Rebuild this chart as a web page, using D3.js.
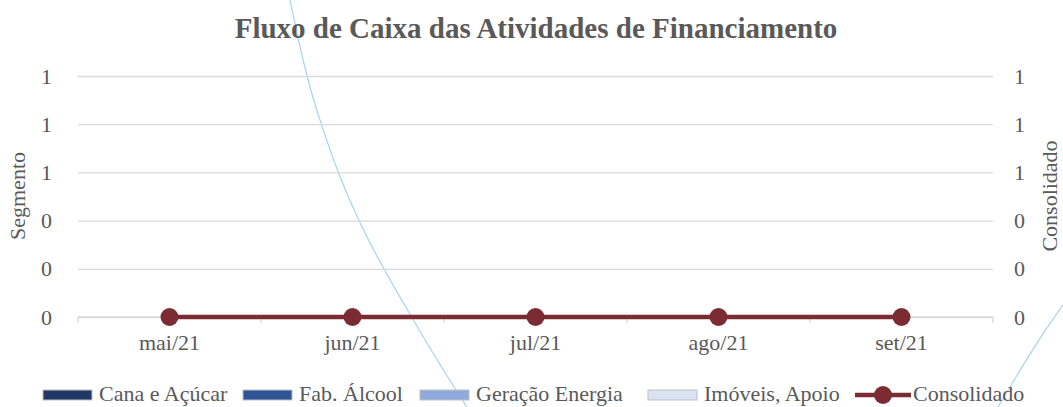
<!DOCTYPE html>
<html>
<head>
<meta charset="utf-8">
<script src="https://cdn.jsdelivr.net/npm/d3@7"></script>
<style>
  body { margin: 0; background: #fff; }
</style>
</head>
<body>
<svg id="chart" width="1063" height="407"></svg>
<script>
/* chart values */
const months = ['mai/21', 'jun/21', 'jul/21', 'ago/21', 'set/21'];
const canaAcucar = [0, 0, 0, 0, 0];
const fabAlcool = [0, 0, 0, 0, 0];
const geracaoEnergia = [0, 0, 0, 0, 0];
const imoveisApoio = [0, 0, 0, 0, 0];
const consolidado = [0, 0, 0, 0, 0];
const yTicks = [0, 0.2, 0.4, 0.6, 0.8, 1];

const seriesNames = ['Cana e Açúcar', 'Fab. Álcool', 'Geração Energia', 'Imóveis, Apoio'];
const seriesColors = ['#203864', '#2f5597', '#8faadc', '#dae3f3'];

const FONT = '"Liberation Serif", "Times New Roman", serif';
const INK = '#595959';

/* layout */
let margin = { top: 76, right: 70, bottom: 90, left: 78 };
let W = 1063, H = 407;
let width = W - margin.left - margin.right;
let height = H - margin.top - margin.bottom;

let svg = d3.select('#chart');

/* decorative background arcs */
let deco = svg.append('g');
let arcLine = d3.line().curve(d3.curveBasis);
deco.append('path')
    .attr('d', arcLine([[289, -5], [306, 76], [321, 124], [338, 173], [358, 220], [383, 268], [412, 318], [440, 365], [470, 412]]))
    .attr('fill', 'none').attr('stroke', '#a8d4ea').attr('stroke-width', 1.2);
deco.append('path')
    .attr('d', arcLine([[995, 412], [1020, 370], [1045, 330], [1068, 298]]))
    .attr('fill', 'none').attr('stroke', '#a8d4ea').attr('stroke-width', 1.2);

let chart = svg.append('g')
    .attr('transform', `translate(${margin.left}, ${margin.top})`);

let x = d3.scaleBand().domain(months).range([0, width]).padding(0);
let xs = d3.scaleBand().domain(d3.range(seriesNames.length)).range([0, x.bandwidth()]).padding(0.2);
let y = d3.scaleLinear().domain([0, 1]).range([height, 0]);
let y2 = d3.scaleLinear().domain([0, 1]).range([height, 0]);
let fmt = d3.format('.0f');

function styleText(sel, size) {
    sel.style('font-family', FONT).attr('font-size', size).attr('fill', INK);
}

/* gridlines + left axis */
let yAxis = chart.append('g')
    .call(d3.axisLeft(y).tickValues(yTicks).tickSize(-width).tickPadding(26).tickFormat(fmt));
yAxis.select('.domain').remove();
yAxis.selectAll('line').attr('stroke', '#d9d9d9').attr('stroke-width', 1.3);
styleText(yAxis.selectAll('text'), 22);

/* right axis */
let yAxisR = chart.append('g')
    .attr('transform', `translate(${width}, 0)`)
    .call(d3.axisRight(y2).tickValues(yTicks).tickSize(0).tickPadding(21).tickFormat(fmt));
yAxisR.select('.domain').remove();
styleText(yAxisR.selectAll('text'), 22);

/* x axis: line + boundary ticks */
let xAxisG = chart.append('g').attr('transform', `translate(0, ${height})`);
xAxisG.append('line').attr('x1', 0).attr('x2', width).attr('stroke', '#d9d9d9').attr('stroke-width', 1.3);
xAxisG.selectAll('.bt').data(months.concat(['end']))
    .join('line')
    .attr('x1', (d, i) => i < months.length ? x(d) : width)
    .attr('x2', (d, i) => i < months.length ? x(d) : width)
    .attr('y1', 0).attr('y2', 6)
    .attr('stroke', '#d9d9d9').attr('stroke-width', 1.3);
let xAxis = xAxisG.append('g')
    .call(d3.axisBottom(x).tickSize(0).tickPadding(17));
xAxis.select('.domain').remove();
styleText(xAxis.selectAll('text'), 22);

/* segment bars (all zero) */
let segData = [canaAcucar, fabAlcool, geracaoEnergia, imoveisApoio];
segData.forEach((vals, si) => {
    chart.selectAll(`.bar${si}`).data(vals)
        .join('rect')
        .attr('x', (d, i) => x(months[i]) + xs(si))
        .attr('width', xs.bandwidth())
        .attr('y', d => Math.min(y(d), y(0)))
        .attr('height', d => Math.abs(y(0) - y(d)))
        .attr('fill', seriesColors[si]);
});

/* consolidated line */
let line = d3.line()
    .x((d, i) => x(months[i]) + x.bandwidth() / 2)
    .y(d => y2(d));
chart.append('path')
    .datum(consolidado)
    .attr('d', line)
    .attr('fill', 'none')
    .attr('stroke', '#7b2c33')
    .attr('stroke-width', 4.5);
chart.selectAll('.dot').data(consolidado)
    .join('circle')
    .attr('cx', (d, i) => x(months[i]) + x.bandwidth() / 2)
    .attr('cy', d => y2(d))
    .attr('r', 9)
    .attr('fill', '#7b2c33');

/* title */
styleText(svg.append('text')
    .attr('x', 536).attr('y', 38)
    .attr('text-anchor', 'middle')
    .attr('font-weight', 'bold')
    .text('Fluxo de Caixa das Atividades de Financiamento'), 29);

/* axis titles */
styleText(svg.append('text')
    .attr('transform', 'translate(25, 196) rotate(-90)')
    .attr('text-anchor', 'middle')
    .text('Segmento'), 22);
styleText(svg.append('text')
    .attr('transform', 'translate(1057, 196) rotate(-90)')
    .attr('text-anchor', 'middle')
    .text('Consolidado'), 22);

/* legend */
let legend = svg.append('g').attr('transform', 'translate(0, 395)');
let legendX = [43, 243, 420, 648];
seriesNames.forEach((name, i) => {
    let g = legend.append('g').attr('transform', `translate(${legendX[i]}, 0)`);
    g.append('rect').attr('x', 0).attr('y', -5).attr('width', 49).attr('height', 10)
        .attr('fill', seriesColors[i]).attr('stroke', '#bfbfbf').attr('stroke-width', 1);
    styleText(g.append('text').attr('x', 56).attr('y', 6).text(name), 22);
});
let lg = legend.append('g').attr('transform', 'translate(855, 0)');
lg.append('line').attr('x1', 0).attr('x2', 56).attr('stroke', '#7b2c33').attr('stroke-width', 4.5);
lg.append('circle').attr('cx', 28).attr('r', 9).attr('fill', '#7b2c33');
styleText(lg.append('text').attr('x', 58).attr('y', 6).text('Consolidado'), 22);
</script>
</body>
</html>
